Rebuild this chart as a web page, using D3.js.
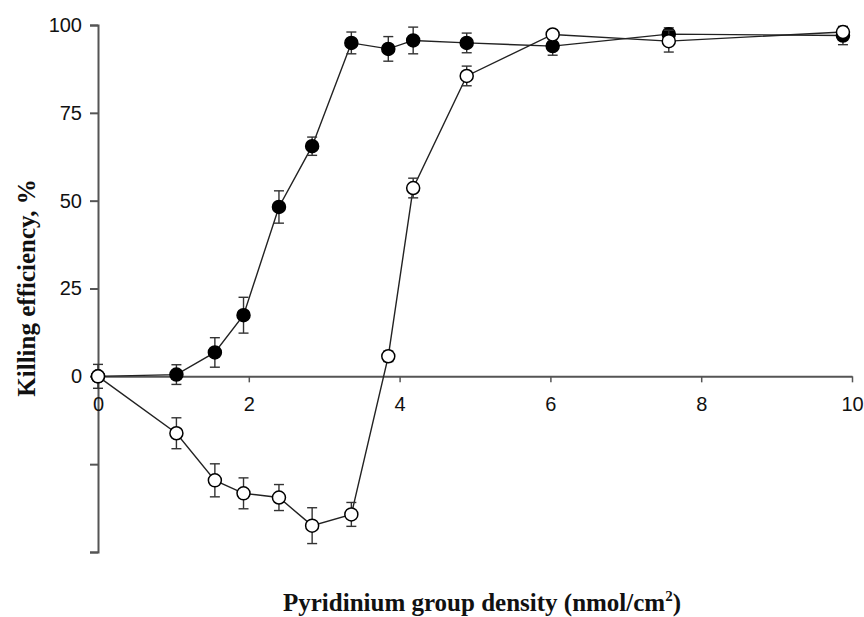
<!DOCTYPE html>
<html lang="en">
<head>
  <meta charset="UTF-8">
  <title>Killing efficiency vs pyridinium group density</title>
  <script src="https://d3js.org/d3.v7.min.js"></script>
  <style>
    body {
      margin: 0;
      background: #fff;
    }
    svg {
      display: block;
    }
  </style>
</head>
<body>

<svg id="chart" width="864" height="617"></svg>

<script>
// Data
const densities = [0, 1.04, 1.55, 1.93, 2.40, 2.84, 3.36, 3.85, 4.18, 4.89, 6.03, 7.57, 9.88];

const filledVals = [0, 0.5, 6.8, 17.4, 48.2, 65.5, 94.9, 93.2, 95.6, 94.9, 94.0, 97.4, 97.0];
const filledErr  = [0, 2.8, 4.2, 5.1, 4.6, 2.6, 3.1, 3.5, 3.8, 2.8, 2.6, 1.8, 2.6];

const openVals = [0, -16.2, -29.6, -33.3, -34.5, -42.5, -39.3, 5.7, 53.6, 85.5, 97.3, 95.4, 98.0];
const openErr  = [3.4, 4.4, 4.7, 4.4, 3.7, 5.1, 3.4, 1.5, 2.8, 2.8, 1.2, 3.1, 1.5];

const xTicks = [0, 2, 4, 6, 8, 10];
const yTicks = [100, 75, 50, 25, 0, -25, -50];

const svg = d3.select("#chart");

// Scales
const x = d3.scaleLinear().domain([0, 10]).range([98, 852]);
const y = d3.scaleLinear().domain([-50, 100]).range([552, 25]);

const axisColor = "#555";

// Y axis
const yAxis = svg.append("g")
  .attr("transform", `translate(${x(0)},0)`)
  .call(d3.axisLeft(y)
    .tickValues(yTicks)
    .tickSize(8)
    .tickSizeOuter(8)
    .tickPadding(8)
    .tickFormat(d => d >= 0 ? d : ""));

yAxis.select(".domain").attr("stroke", axisColor).attr("stroke-width", 2);
yAxis.selectAll(".tick line").attr("stroke", axisColor).attr("stroke-width", 2);
yAxis.selectAll(".tick text")
  .attr("fill", "#111")
  .style("font-family", "Arial, 'Liberation Sans', sans-serif")
  .style("font-size", "20px");

// X axis drawn through y = 0
const xAxis = svg.append("g")
  .attr("transform", `translate(0,${y(0)})`)
  .call(d3.axisBottom(x)
    .tickValues(xTicks)
    .tickSize(6)
    .tickSizeOuter(0)
    .tickPadding(14)
    .tickFormat(d3.format("d")));

xAxis.select(".domain").attr("stroke", axisColor).attr("stroke-width", 2);
xAxis.selectAll(".tick line").attr("stroke", axisColor).attr("stroke-width", 1.5);
xAxis.selectAll(".tick text")
  .attr("fill", "#111")
  .style("font-family", "Arial, 'Liberation Sans', sans-serif")
  .style("font-size", "20px");

// Axis titles
svg.append("text")
  .attr("transform", `translate(35,288) rotate(-90)`)
  .attr("text-anchor", "middle")
  .style("font-family", "'Liberation Serif', 'Times New Roman', serif")
  .style("font-weight", "bold")
  .style("font-size", "25px")
  .attr("fill", "#111")
  .text("Killing efficiency, %");

const xTitle = svg.append("text")
  .attr("x", 482)
  .attr("y", 611)
  .attr("text-anchor", "middle")
  .style("font-family", "'Liberation Serif', 'Times New Roman', serif")
  .style("font-weight", "bold")
  .style("font-size", "25px")
  .attr("fill", "#111");
xTitle.append("tspan").text("Pyridinium group density (nmol/cm");
xTitle.append("tspan").attr("dy", -10).style("font-size", "15px").text("2");
xTitle.append("tspan").attr("dy", 10).text(")");

// Series
const series = [
  {vals: filledVals, err: filledErr, fill: "#000"},
  {vals: openVals, err: openErr, fill: "#fff"}
];

const line = d3.line()
  .x(d => x(d.x))
  .y(d => y(d.y));

series.forEach(s => {
  const pts = densities.map((d, i) => ({x: d, y: s.vals[i], e: s.err[i]}));

  svg.append("path")
    .datum(pts)
    .attr("fill", "none")
    .attr("stroke", "#222")
    .attr("stroke-width", 1.4)
    .attr("d", line);

  const eb = svg.append("g")
    .attr("stroke", "#333")
    .attr("stroke-width", 1.4);

  const withErr = pts.filter(p => p.e > 0);

  eb.selectAll(".v").data(withErr).join("line")
    .attr("x1", d => x(d.x)).attr("x2", d => x(d.x))
    .attr("y1", d => y(d.y - d.e)).attr("y2", d => y(d.y + d.e));

  eb.selectAll(".top").data(withErr).join("line")
    .attr("x1", d => x(d.x) - 5).attr("x2", d => x(d.x) + 5)
    .attr("y1", d => y(d.y + d.e)).attr("y2", d => y(d.y + d.e));

  eb.selectAll(".bot").data(withErr).join("line")
    .attr("x1", d => x(d.x) - 5).attr("x2", d => x(d.x) + 5)
    .attr("y1", d => y(d.y - d.e)).attr("y2", d => y(d.y - d.e));

  svg.append("g").selectAll("circle").data(pts).join("circle")
    .attr("cx", d => x(d.x))
    .attr("cy", d => y(d.y))
    .attr("r", 6.5)
    .attr("fill", s.fill)
    .attr("stroke", "#000")
    .attr("stroke-width", 1.5);
});
</script>

</body>
</html>
